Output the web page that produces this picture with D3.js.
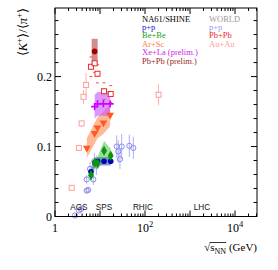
<!DOCTYPE html>
<html><head><meta charset="utf-8">
<script src="https://cdn.jsdelivr.net/npm/d3@7"></script>
<style>body{margin:0;background:#fff}svg{display:block}</style>
</head><body>
<script>
// ---------- data ----------
// NA61/SHINE
const ppNA61_s   = [6.3, 7.7, 8.8, 12.3, 17.3];
const ppNA61_v   = [0.064, 0.077, 0.079, 0.079, 0.079];
const ppNA61_sys = [0.006, 0.006, 0.006, 0.006, 0.006];

const beNA61_s   = [6.3, 7.7, 8.8, 12.3, 17.3];
const beNA61_v   = [0.059, 0.077, 0.076, 0.094, 0.087];
const beNA61_sys = [0.008, 0.008, 0.009, 0.014, 0.010];
const beNA61_err = [0.007, 0.004, 0.004, 0.004, 0.004];

const arNA61_s   = [5.1, 7.6, 8.8, 11.9, 16.8];
const arNA61_v   = [0.098, 0.119, 0.127, 0.134, 0.145];
const arNA61_sys = [0.014, 0.015, 0.015, 0.016, 0.016];

const xeNA61_s   = [7.6, 8.8, 11.9, 16.8];
const xeNA61_v   = [0.157, 0.161, 0.161, 0.161];
const xeNA61_sys = [0.017, 0.017, 0.017, 0.018];

const pbNA61_s   = [7.6];
const pbNA61_v   = [0.236];
const pbNA61_sys = [0.018];

// WORLD
const ppW_s   = [2.78, 3.41, 3.78, 5.06, 5.5, 5.06, 7.1, 6.0, 7.5, 8.3, 23.5, 25.5, 30.3, 27.8, 44.8, 55];
const ppW_v   = [0.0014, 0.0086, 0.0106, 0.037, 0.038, 0.053, 0.053, 0.068, 0.079, 0.073, 0.100, 0.093, 0.100, 0.082, 0.101, 0.098];
const ppW_err = [0.002, 0.002, 0.002, 0.004, 0.004, 0.006, 0.008, 0.010, 0.012, 0.014, 0.016, 0.016, 0.018, 0.014, 0.016, 0.016];

const pbW_s   = [6.3, 7.6, 8.8, 12.3, 17.3];
const pbW_v   = [0.214, 0.219, 0.204, 0.179, 0.175];
const pbW_err = [0.004, 0.004, 0.004, 0.004, 0.004];
const pbW_sys = [0.014, 0.013, 0.013, 0.012, 0.012];

const auW_s   = [2.35, 3.4, 3.9, 4.3, 4.9, 200];
const auW_v   = [0.041, 0.098, 0.133, 0.171, 0.188, 0.174];
const auW_err = [0.003, 0.004, 0.005, 0.010, 0.017, 0.015];

// axes
const yTicksMajor = [0, 0.1, 0.2];
const yTickLabels = ["0", "0.1", "0.2"];
const xLabelDecades = [0, 2, 4];
const facilities = ["AGS", "SPS", "RHIC", "LHC"];
const facilityS  = [3.4, 12.3, 90, 1850];

const legendNA61 = ["p+p", "Be+Be", "Ar+Sc", "Xe+La (prelim.)", "Pb+Pb (prelim.)"];
const legendNA61Col = ["#1a1acc", "#22a022", "#ff7a3a", "#cc22ee", "#a02828"];
const legendW = ["p+p", "Pb+Pb", "Au+Au"];
const legendWCol = ["#9a9af0", "#ee2a2a", "#ff9c9c"];

// ---------- drawing ----------
const W = 278, H = 270;
const L = 55, R = 257, T = 8, B = 216.5;
const svg = d3.select("body").append("svg").attr("width", W).attr("height", H);
const x = d3.scaleLog().domain([1, Math.pow(10, (R - L) / 45)]).range([L, R]);
const y = d3.scaleLinear().domain([0, 0.298]).range([B, T]);

const zip = (s, v, e) => s.map((d, i) => ({s: d, v: v[i], e: e ? e[i] : 0}));
const plot = svg.append("g");

function band(s, v, sys, fill, op) {
  const data = zip(s, v, sys);
  if (data.length === 1) {
    const d = data[0];
    plot.append("rect").attr("x", x(d.s) - 3).attr("width", 6)
      .attr("y", y(d.v + d.e)).attr("height", y(d.v - d.e) - y(d.v + d.e))
      .attr("fill", fill).attr("opacity", op);
    return;
  }
  plot.append("path").datum(data)
    .attr("d", d3.area().x(d => x(d.s)).y0(d => y(d.v - d.e)).y1(d => y(d.v + d.e)))
    .attr("fill", fill).attr("opacity", op);
}
function errbars(s, v, e, col, w) {
  plot.append("g").selectAll("line").data(zip(s, v, e)).join("line")
    .attr("x1", d => x(d.s)).attr("x2", d => x(d.s))
    .attr("y1", d => y(d.v - d.e)).attr("y2", d => y(d.v + d.e))
    .attr("stroke", col).attr("stroke-width", w || 1);
}
function markers(s, v, type, col, size) {
  const g = plot.append("g");
  const data = zip(s, v);
  if (type === "ocircle") {
    g.selectAll("circle").data(data).join("circle")
      .attr("cx", d => x(d.s)).attr("cy", d => y(d.v)).attr("r", size)
      .attr("fill", "none").attr("stroke", col).attr("stroke-width", 1);
  } else if (type === "circle") {
    g.selectAll("circle").data(data).join("circle")
      .attr("cx", d => x(d.s)).attr("cy", d => y(d.v)).attr("r", size).attr("fill", col);
  } else if (type === "osquare") {
    g.selectAll("rect").data(data).join("rect")
      .attr("x", d => x(d.s) - size).attr("y", d => y(d.v) - size)
      .attr("width", 2 * size).attr("height", 2 * size)
      .attr("fill", "#fff").attr("stroke", col).attr("stroke-width", 1);
  } else if (type === "plus") {
    g.selectAll("path").data(data).join("path")
      .attr("d", d => `M${x(d.s) - size},${y(d.v)}H${x(d.s) + size}M${x(d.s)},${y(d.v) - size}V${y(d.v) + size}`)
      .attr("stroke", col).attr("stroke-width", 1.6).attr("fill", "none");
  } else {
    const sym = type === "diamond" ? d3.symbolDiamond : d3.symbolTriangle;
    g.selectAll("path").data(data).join("path")
      .attr("transform", d => `translate(${x(d.s)},${y(d.v)})` + (type === "tri" ? " rotate(180)" : ""))
      .attr("d", d3.symbol().type(sym).size(size)).attr("fill", col);
  }
}

// bands
band(ppNA61_s, ppNA61_v, ppNA61_sys, "#2a4aa0", 0.55);
band(beNA61_s, beNA61_v, beNA61_sys, "#3cbc3c", 0.5);
band(arNA61_s, arNA61_v, arNA61_sys, "#ff8a55", 0.6);
band(xeNA61_s, xeNA61_v, xeNA61_sys, "#c850ff", 0.6);
band(pbNA61_s, pbNA61_v, pbNA61_sys, "#a83030", 0.55);

// world
errbars(ppW_s, ppW_v, ppW_err, "#b0b0f4", 1);
markers(ppW_s, ppW_v, "ocircle", "#8c8cf0", 2.6);
errbars(auW_s, auW_v, auW_err, "#ffb0b0", 1);
markers(auW_s, auW_v, "osquare", "#ff9c9c", 2.5);
errbars(pbW_s, pbW_v, pbW_err, "#ee3030", 1);
// systematic brackets for world Pb+Pb
plot.append("g").selectAll("line").data(zip(pbW_s, pbW_v, pbW_sys).flatMap(d => [d.v + d.e, d.v - d.e].map(v => ({s: d.s, v}))))
  .join("line").attr("x1", d => x(d.s) - 1.5).attr("x2", d => x(d.s) + 1.5)
  .attr("y1", d => y(d.v)).attr("y2", d => y(d.v)).attr("stroke", "#ee5050").attr("stroke-width", 1);
markers(pbW_s, pbW_v, "osquare", "#ee2a2a", 2.5);

// NA61
errbars(beNA61_s, beNA61_v, beNA61_err, "#1f8f1f", 1);
markers(ppNA61_s, ppNA61_v, "circle", "#0000c0", 2.8);
markers(beNA61_s, beNA61_v, "diamond", "#0a960a", 30);
markers(arNA61_s, arNA61_v, "tri", "#ff5a1e", 26);
markers(xeNA61_s, xeNA61_v, "plus", "#cc00ff", 3.5);
markers(pbNA61_s, pbNA61_v, "circle", "#a00000", 2.8);

// frame
svg.append("rect").attr("x", L).attr("y", T).attr("width", R - L).attr("height", B - T)
  .attr("fill", "none").attr("stroke", "#000").attr("stroke-width", 1);

// y ticks (left & right, inward)
const yMinor = d3.range(0, 0.2981, 0.02);
const ax = svg.append("g").attr("stroke", "#000").attr("stroke-width", 1);
yMinor.forEach(v => {
  const major = yTicksMajor.some(m => Math.abs(m - v) < 1e-9);
  const len = major ? 6 : 3.5;
  ax.append("line").attr("x1", L).attr("x2", L + len).attr("y1", y(v)).attr("y2", y(v));
  ax.append("line").attr("x1", R).attr("x2", R - len).attr("y1", y(v)).attr("y2", y(v));
});
// x ticks (bottom & top, inward)
const [d0, d1] = x.domain();
for (let k = 0; k <= 4; k++) {
  for (let m = 1; m <= 9; m++) {
    const v = m * Math.pow(10, k);
    if (v < d0 || v > d1) continue;
    const len = m === 1 ? 6 : 3;
    ax.append("line").attr("x1", x(v)).attr("x2", x(v)).attr("y1", B).attr("y2", B - len);
    ax.append("line").attr("x1", x(v)).attr("x2", x(v)).attr("y1", T).attr("y2", T + len);
  }
}

const serif = "'Liberation Serif','Times New Roman',serif";
const sans = "'Liberation Sans',Arial,sans-serif";

// y tick labels
yTicksMajor.forEach((v, i) => {
  svg.append("text").attr("x", L - 3).attr("y", y(v) + 4).attr("text-anchor", "end")
    .attr("font-family", serif).attr("font-size", 12).text(yTickLabels[i]);
});
// x tick labels
xLabelDecades.forEach(k => {
  const t = svg.append("text").attr("x", x(Math.pow(10, k))).attr("y", 232)
    .attr("text-anchor", "middle").attr("font-family", serif).attr("font-size", 12);
  if (k === 0) t.text("1");
  else { t.append("tspan").text("10"); t.append("tspan").attr("dy", -5).attr("font-size", 8.5).text(k); }
});

// facility labels
facilities.forEach((f, i) => {
  svg.append("text").attr("x", x(facilityS[i])).attr("y", 209.5).attr("text-anchor", "middle")
    .attr("font-family", sans).attr("font-size", 8.2).attr("fill", "#111").text(f);
});

// x title
const xt = svg.append("text").attr("x", R).attr("y", 251).attr("text-anchor", "end")
  .attr("font-family", serif).attr("font-size", 11);
xt.append("tspan").text("√");
xt.append("tspan").text("s");
xt.append("tspan").attr("dy", 2.5).attr("font-size", 8).text("NN");
xt.append("tspan").attr("dy", -2.5).text(" (GeV)");
const xn = xt.node();
const x1o = xn.getStartPositionOfChar(1).x, x2o = xn.getEndPositionOfChar(3).x;
const bb = xn.getBBox();
svg.append("line").attr("x1", x1o - 0.5).attr("x2", x2o).attr("y1", bb.y + 1.5).attr("y2", bb.y + 1.5)
  .attr("stroke", "#000").attr("stroke-width", 0.8);

// y title
const yt = svg.append("text").attr("transform", "translate(26.5,8) rotate(-90)").attr("text-anchor", "end")
  .attr("font-family", serif).attr("font-size", 12.5);
yt.append("tspan").text("⟨");
yt.append("tspan").attr("font-style", "italic").text("K");
yt.append("tspan").attr("dy", -4.5).attr("font-size", 9).text("+");
yt.append("tspan").attr("dy", 4.5).text("⟩/⟨");
yt.append("tspan").attr("font-style", "italic").text("π");
yt.append("tspan").attr("dy", -4.5).attr("font-size", 9).text("+");
yt.append("tspan").attr("dy", 4.5).text("⟩");

// legend
const lg = svg.append("g").attr("font-family", serif).attr("font-size", 8.5);
lg.append("text").attr("x", 142).attr("y", 21.5).attr("fill", "#000").text("NA61/SHINE");
legendNA61.forEach((t, i) => lg.append("text").attr("x", 142).attr("y", 29.9 + 8.4 * i).attr("fill", legendNA61Col[i]).text(t));
lg.append("text").attr("x", 209).attr("y", 21.5).attr("fill", "#9a9a9a").text("WORLD");
legendW.forEach((t, i) => lg.append("text").attr("x", 209).attr("y", 29.9 + 8.4 * i).attr("fill", legendWCol[i]).text(t));
</script>
</body></html>
